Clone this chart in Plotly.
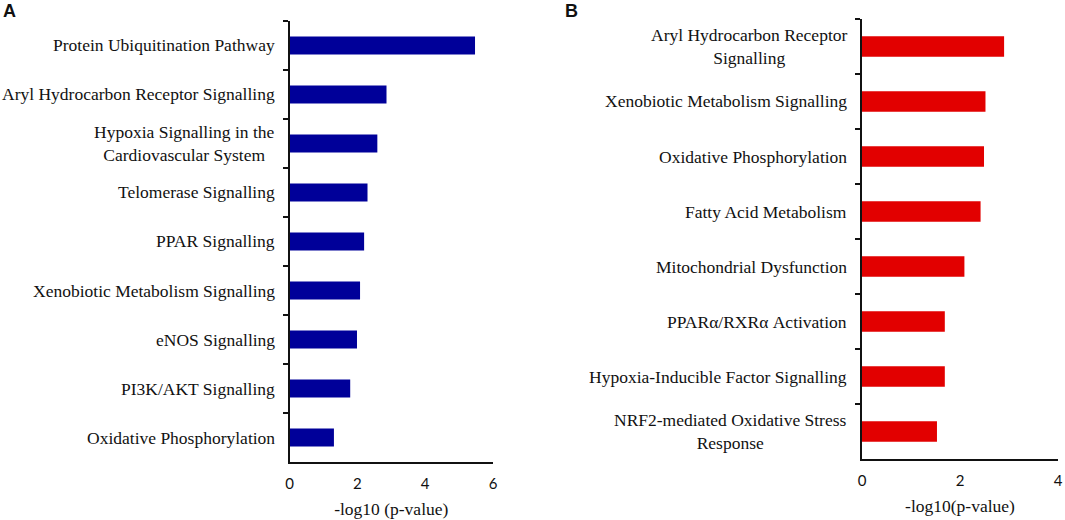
import plotly.graph_objects as go

# panel A: canonical pathways (top to bottom)
pathways_a = [
    "Protein Ubiquitination Pathway",
    "Aryl Hydrocarbon Receptor Signalling",
    "Hypoxia Signalling in the<br>Cardiovascular System",
    "Telomerase Signalling",
    "PPAR Signalling",
    "Xenobiotic Metabolism Signalling",
    "eNOS Signalling",
    "PI3K/AKT Signalling",
    "Oxidative Phosphorylation",
]
logp_a = [5.47, 2.86, 2.59, 2.30, 2.20, 2.08, 1.99, 1.79, 1.31]

# panel B: toxicity functions (top to bottom)
pathways_b = [
    "Aryl Hydrocarbon Receptor<br>Signalling",
    "Xenobiotic Metabolism Signalling",
    "Oxidative Phosphorylation",
    "Fatty Acid Metabolism",
    "Mitochondrial Dysfunction",
    "PPARα/RXRα Activation",
    "Hypoxia-Inducible Factor Signalling",
    "NRF2-mediated Oxidative Stress<br>Response",
]
logp_b = [2.90, 2.52, 2.49, 2.42, 2.09, 1.69, 1.69, 1.53]

W, H = 1065, 520
serif = "Liberation Serif, Times New Roman, serif"

fig = go.Figure()
fig.add_trace(go.Bar(x=logp_a, y=pathways_a, orientation="h", width=0.37,
                     marker=dict(color="#000099", line=dict(width=0)),
                     xaxis="x", yaxis="y", showlegend=False))
fig.add_trace(go.Bar(x=logp_b, y=pathways_b, orientation="h", width=0.37,
                     marker=dict(color="#E20000", line=dict(width=0)),
                     xaxis="x2", yaxis="y2", showlegend=False))

# domains from pixel positions of the axes
dom_xa = [289.5 / W, 493 / W]
dom_ya = [1 - 462 / H, 1 - 21 / H]
dom_xb = [862 / W, 1058 / W]
dom_yb = [1 - 459 / H, 1 - 19 / H]

xcommon = dict(showline=True, linecolor="#111", linewidth=1.5, ticks="",
               showgrid=False, zeroline=False, dtick=2, automargin=False,
               tickfont=dict(family="Lato", size=15, color="#111"),
               ticklabelstandoff=7, ticklabeloverflow="allow",
               title_font=dict(family=serif, size=17.5, color="#111"),
               title_standoff=12)
ycommon = dict(showline=True, linecolor="#111", linewidth=1.5, ticks="outside",
               ticklen=5, tickwidth=1.5, tickcolor="#111", tickson="boundaries",
               showticklabels=False, showgrid=False, zeroline=False,
               automargin=False)

fig.update_layout(
    width=W, height=H,
    margin=dict(l=0, r=0, t=0, b=0),
    plot_bgcolor="white", paper_bgcolor="white",
    xaxis=dict(domain=dom_xa, anchor="y", range=[0, 6],
               title_text="-log10 (p-value)", **xcommon),
    yaxis=dict(domain=dom_ya, anchor="x", type="category",
               range=[len(pathways_a) - 0.5, -0.5], **ycommon),
    xaxis2=dict(domain=dom_xb, anchor="y2", range=[0, 4],
                title_text="-log10(p-value)", **xcommon),
    yaxis2=dict(domain=dom_yb, anchor="x2", type="category",
                range=[len(pathways_b) - 0.5, -0.5], **ycommon),
)

# category labels: right aligned block, centred lines
for names, xdom, yref in [(pathways_a, dom_xa, "y"), (pathways_b, dom_xb, "y2")]:
    for name in names:
        fig.add_annotation(text=name, x=xdom[0], xref="paper", y=name, yref=yref,
                           xanchor="right", yanchor="middle", xshift=-13,
                           align="center", showarrow=False,
                           font=dict(family=serif, size=17.5, color="#111"))

# panel letters
for letter, px in [("A", 1), ("B", 563)]:
    fig.add_annotation(text="<b>%s</b>" % letter, x=px / W, xref="paper",
                       y=1 - 11 / H, yref="paper", xanchor="left", yanchor="middle",
                       showarrow=False,
                       font=dict(family="Liberation Sans, Arial", size=18, color="#111"))

# drop the browser's default body margin so the figure fills the window
fig.write_html("out.html", config={"displayModeBar": False},
               post_script="document.body.style.margin = '0';")
